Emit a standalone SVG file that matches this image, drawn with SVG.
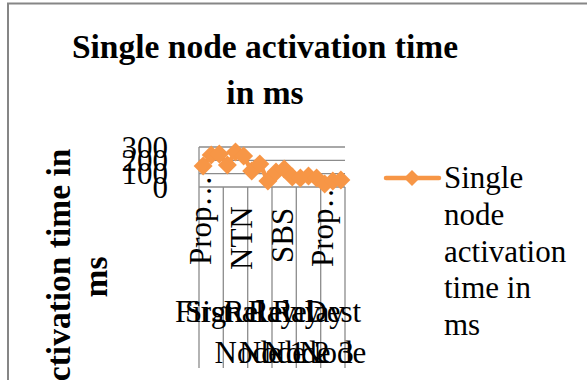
<svg xmlns="http://www.w3.org/2000/svg" width="587" height="380" viewBox="0 0 587 380">
<style>
.t{font-family:"Liberation Serif","Times New Roman",serif;font-size:31px;fill:#000}
.b{font-family:"Liberation Serif","Times New Roman",serif;font-weight:bold;fill:#000}
.g{stroke:#8c8c8c;stroke-width:1.3;fill:none}
.s{stroke:#F79646;stroke-width:4.5;fill:none;stroke-linejoin:round;stroke-linecap:round}
</style>
<defs>
<path id="dm" d="M0,-9.5 L9.5,0 L0,9.5 L-9.5,0 Z" fill="#F79646"/>
</defs>
<rect x="0" y="0" width="587" height="380" fill="#fff"/>
<g id="frame"><path d="M8,390 V3.5 H600" stroke="#868686" stroke-width="2" fill="none"/></g>
<g id="title">
<text class="b" font-size="33.5" x="265" y="58" text-anchor="middle">Single node activation time</text>
<text class="b" font-size="33.5" x="265" y="104" text-anchor="middle">in ms</text>
</g>
<g id="y-title">
<text class="b" font-size="33.5" transform="translate(70,277) rotate(-90)" text-anchor="middle">Activation time in</text>
<text class="b" font-size="33.5" transform="translate(107,277) rotate(-90)" text-anchor="middle">ms</text>
</g>
<g id="grid">
<path class="g" d="M199,147 H345 M199,160.3 H345 M199,173.7 H345 M199,187 H345"/>
<path class="g" d="M199,147 V368 M223.3,187 V368 M247.7,187 V368 M272,187 V368 M296.3,187 V368 M320.7,187 V368 M345,187 V368"/>
</g>
<g id="y-labels">
<text class="t" x="168" y="157.5" text-anchor="end">300</text>
<text class="t" x="168" y="170.8" text-anchor="end">200</text>
<text class="t" x="168" y="184.2" text-anchor="end">100</text>
<text class="t" x="168" y="197.5" text-anchor="end">0</text>
</g>
<g id="x-inner-labels">
<text class="t" transform="translate(211,265) rotate(-90)">Prop…</text>
<text class="t" transform="translate(252,270) rotate(-90)">NTN</text>
<text class="t" transform="translate(293,263) rotate(-90)">SBS</text>
<text class="t" transform="translate(333,267) rotate(-90)">Prop…</text>
</g>
<g id="x-outer-labels">
<text class="t" x="175" y="322">First</text>
<text class="t" x="185" y="322">Signal</text>
<text class="t" x="259.8" y="322" text-anchor="middle">Relay</text>
<text class="t" x="284.2" y="322" text-anchor="middle">Relay</text>
<text class="t" x="308.5" y="322" text-anchor="middle">Relay</text>
<text class="t" x="332.8" y="322" text-anchor="middle">Dest</text>
<text class="t" x="259.8" y="363" text-anchor="middle">Node 1</text>
<text class="t" x="284.2" y="363" text-anchor="middle">Node 2</text>
<text class="t" x="308.5" y="363" text-anchor="middle">Node 3</text>
<text class="t" x="332.8" y="363" text-anchor="middle">Node</text>
</g>
<g id="series">
<polyline class="s" points="203.1,166 211.2,155 219.3,154 227.4,165 235.5,152 243.6,156 251.7,171 259.8,164 267.9,181 276,172 284.2,169 292.3,177 300.4,178 308.5,176 316.6,178 324.7,184 332.8,181 340.9,180"/>
<use href="#dm" x="203.1" y="166"/><use href="#dm" x="211.2" y="155"/><use href="#dm" x="219.3" y="154"/>
<use href="#dm" x="227.4" y="165"/><use href="#dm" x="235.5" y="152"/><use href="#dm" x="243.6" y="156"/>
<use href="#dm" x="251.7" y="171"/><use href="#dm" x="259.8" y="164"/><use href="#dm" x="267.9" y="181"/>
<use href="#dm" x="276" y="172"/><use href="#dm" x="284.2" y="169"/><use href="#dm" x="292.3" y="177"/>
<use href="#dm" x="300.4" y="178"/><use href="#dm" x="308.5" y="176"/><use href="#dm" x="316.6" y="178"/>
<use href="#dm" x="324.7" y="184"/><use href="#dm" x="332.8" y="181"/><use href="#dm" x="340.9" y="180"/>
</g>
<g id="legend">
<path class="s" d="M386,178 H439"/>
<path d="M412,170 L420,178 L412,186 L404,178 Z" fill="#F79646"/>
<text class="t" x="444" y="188">Single</text>
<text class="t" x="444" y="225">node</text>
<text class="t" x="444" y="262">activation</text>
<text class="t" x="444" y="298">time in</text>
<text class="t" x="444" y="335">ms</text>
</g>
</svg>
